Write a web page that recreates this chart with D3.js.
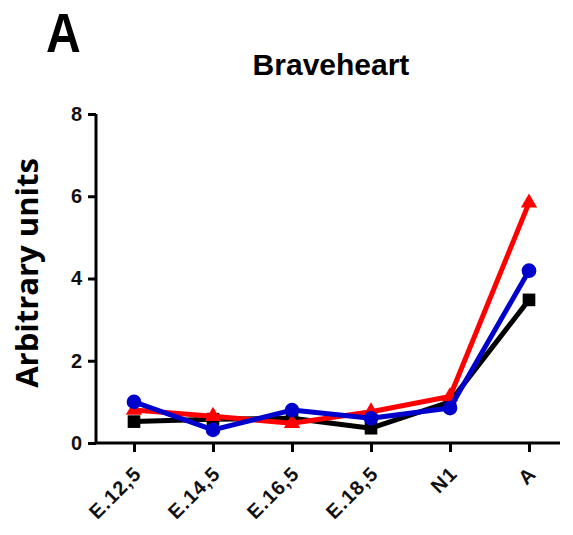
<!DOCTYPE html>
<html>
<head>
<meta charset="utf-8">
<script src="https://cdn.jsdelivr.net/npm/d3@7"></script>
<style>
  html, body { margin: 0; padding: 0; background: #fff; }
  svg { display: block; }
</style>
</head>
<body>
<svg id="chart" width="573" height="535"></svg>
<script>
// Stages on the x axis
const stages = ["E.12,5", "E.14,5", "E.16,5", "E.18,5", "N1", "A"];
// Expression series (arbitrary units)
const blackSquares = [0.52, 0.58, 0.60, 0.36, 1.00, 3.48];
const redTriangles = [0.80, 0.65, 0.48, 0.76, 1.13, 5.84];
const blueCircles  = [1.00, 0.32, 0.80, 0.60, 0.85, 4.19];
const yTicks = [0, 2, 4, 6, 8];

(function draw() {
  const svg = d3.select("#chart");
  const plotLeft = 96, plotRight = 560, plotTop = 114, plotBottom = 443;
  const sans = "Liberation Sans, Arial, sans-serif";

  const x = d3.scalePoint().domain(stages).range([134, 529]);
  const y = d3.scaleLinear().domain([0, 8]).range([plotBottom, plotTop]);

  // Panel letter and title
  svg.append("text").attr("transform", "translate(46,52) scale(0.86,1)")
    .attr("font-family", sans)
    .attr("font-weight", "bold").attr("font-size", 56).text("A");
  svg.append("text").attr("x", 331).attr("y", 75).attr("text-anchor", "middle")
    .attr("font-family", sans)
    .attr("font-weight", "bold").attr("font-size", 30).text("Braveheart");

  // Y axis title
  svg.append("text")
    .attr("transform", "translate(38,273) rotate(-90)")
    .attr("text-anchor", "middle")
    .attr("font-family", "Open Sans, sans-serif")
    .attr("font-weight", "bold").attr("font-size", 31)
    .text("Arbitrary units");

  // Axes
  const yAxis = svg.append("g").attr("transform", `translate(${plotLeft},0)`)
    .call(d3.axisLeft(y).tickValues(yTicks).tickSize(8).tickPadding(6));
  const xAxis = svg.append("g").attr("transform", `translate(0,${plotBottom})`)
    .call(d3.axisBottom(x).tickSize(9).tickPadding(6));
  xAxis.select(".domain").attr("d", `M${plotLeft},0H${plotRight}`);
  yAxis.select(".domain").attr("d", `M0,${plotBottom}V${plotTop}`);

  [xAxis, yAxis].forEach(g => {
    g.selectAll(".domain, .tick line").attr("stroke", "#000").attr("stroke-width", 3);
    g.selectAll("text").attr("fill", "#111")
      .attr("font-family", sans)
      .attr("font-weight", "bold").attr("font-size", 20);
  });
  xAxis.selectAll(".tick text")
    .attr("text-anchor", "end")
    .attr("x", 0).attr("y", 0).attr("dy", 0)
    .attr("letter-spacing", 1)
    .attr("transform", "translate(8,32) rotate(-45)");

  // Series lines with markers
  const line = d3.line().x((d, i) => x(stages[i])).y(d => y(d));
  const series = [
    { values: blackSquares, color: "#000000", symbol: d3.symbolSquare, size: 160 },
    { values: redTriangles, color: "#ff0000", symbol: d3.symbolTriangle, size: 115 },
    { values: blueCircles,  color: "#0000cc", symbol: d3.symbolCircle, size: 170 }
  ];
  series.forEach(s => {
    svg.append("path").datum(s.values)
      .attr("d", line).attr("fill", "none")
      .attr("stroke", s.color).attr("stroke-width", 5)
      .attr("stroke-linejoin", "round");
    svg.append("g").selectAll("path").data(s.values).join("path")
      .attr("transform", (d, i) => `translate(${x(stages[i])},${y(d)})`)
      .attr("d", d3.symbol().type(s.symbol).size(s.size))
      .attr("fill", s.color);
  });
})();
</script>
</body>
</html>
